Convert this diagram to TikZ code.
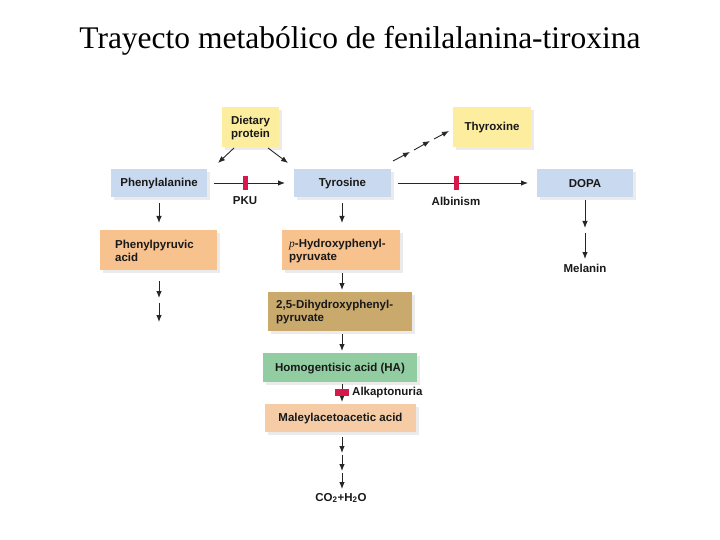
\documentclass[tikz,border=0pt]{standalone}
\usepackage{fontspec}
\setmainfont{Liberation Sans}
\newfontfamily\titlefont{Liberation Serif}
\usetikzlibrary{arrows.meta}
\definecolor{cblue}{HTML}{C9D9EF}
\definecolor{cyellow}{HTML}{FCEE9E}
\definecolor{corange}{HTML}{F7C28E}
\definecolor{ctan}{HTML}{C9A96C}
\definecolor{cgreen}{HTML}{92CCA1}
\definecolor{cpeach}{HTML}{F6CCA6}
\definecolor{cred}{HTML}{D6184A}
\begin{document}
\begin{tikzpicture}[x=1pt,y=-1pt,
  box/.style={inner sep=0pt, font=\fontsize{11.5}{13}\selectfont\bfseries, text=black!90},
  arr/.style={-{Latex[length=7pt,width=5.5pt]}, line width=0.9pt, black!85},
  lbl/.style={font=\fontsize{11.5}{13}\selectfont\bfseries, text=black!90, inner sep=0pt},
  blk/.style={fill=cred, draw=none}]
\useasboundingbox (0,0) rectangle (720,540);
\node[font=\titlefont\fontsize{31.5}{36}\selectfont] (title) at (360,41) {Trayecto metabólico de fenilalanina-tiroxina};

% shadows + boxes
\newcommand{\mybox}[6]{% name, x1,y1,x2,y2, color
  \fill[black!8] (#2+3,#3+3) rectangle (#4+3,#5+3);
  \fill[#6] (#2,#3) rectangle (#4,#5);
  \coordinate (#1) at ({(#2+#4)/2},{(#3+#5)/2+1});
}
\mybox{diet}{222}{107}{279}{147}{cyellow}
\mybox{thy}{453}{107}{531}{147}{cyellow}
\mybox{phe}{111}{169}{207}{197}{cblue}
\mybox{tyr}{294}{169}{391}{197}{cblue}
\mybox{dopa}{537}{169}{633}{197}{cblue}
\mybox{ppa}{100}{230}{217}{270}{corange}
\mybox{php}{282}{230}{400}{270}{corange}
\mybox{dhp}{268}{292}{412}{331}{ctan}
\mybox{ha}{263}{353}{417}{382}{cgreen}
\mybox{maa}{265}{404}{416}{432}{cpeach}

\node[box, align=center] (tdiet) at (diet) {Dietary\\protein};
\node[box] (tthy) at (thy) {Thyroxine};
\node[box] (tphe) at (phe) {Phenylalanine};
\node[box] (ttyr) at (tyr) {Tyrosine};
\node[box] (tdopa) at (dopa) {DOPA};
\node[box, align=left, anchor=west] (tppa) at (115,251) {Phenylpyruvic\\acid};
\node[box, align=left, anchor=west] (tphp) at (289,251) {{\titlefont\itshape\mdseries p}-Hydroxyphenyl-\\pyruvate};
\node[box, align=left, anchor=west] (tdhp) at (276,312) {2,5-Dihydroxyphenyl-\\pyruvate};
\node[box] (tha) at (ha) {Homogentisic acid (HA)};
\node[box] (tmaa) at (maa) {Maleylacetoacetic acid};

\node[lbl] (pku) at (245,201) {PKU};
\node[lbl] (alb) at (456,201) {Albinism};
\node[lbl, anchor=west] (alk) at (352,393) {Alkaptonuria};
\node[lbl] (mel) at (585,268) {Melanin};
\node[lbl] (co2) at (341,498) {CO\textsubscript{2}+H\textsubscript{2}O};

% diagonal arrows from dietary protein
\coordinate (d1s) at (234,148); \coordinate (d1e) at (218,163);
\coordinate (d2s) at (268,148); \coordinate (d2e) at (288,163);
\draw[arr] (d1s) -- (d1e);
\draw[arr] (d2s) -- (d2e);

\coordinate (a1) at (214,183); \coordinate (a2) at (285,183);
\draw[arr] (a1) -- (a2);
\fill[blk] (243,176) rectangle (248,190);
\coordinate (b1) at (398,183); \coordinate (b2) at (528,183);
\draw[arr] (b1) -- (b2);
\fill[blk] (454,176) rectangle (459,190);

% dashed to thyroxine
\coordinate (t1) at (393,161); \coordinate (t2) at (410,152);
\coordinate (t3) at (414,150); \coordinate (t4) at (430,141);
\coordinate (t5) at (434,139); \coordinate (t6) at (449,131);
\draw[arr] (t1) -- (t2);
\draw[arr] (t3) -- (t4);
\draw[arr] (t5) -- (t6);

% vertical arrows
\draw[arr] (159,203) -- (159,223);
\draw[arr] (342,203) -- (342,223);
\draw[arr] (159,281) -- (159,298);
\draw[arr] (159,303) -- (159,322);
\draw[arr] (342,273) -- (342,290);
\draw[arr] (342,334) -- (342,351);
\draw[arr] (342,384) -- (342,402);
\fill[blk] (335,389) rectangle (349,396);
\draw[arr] (342,437) -- (342,453);
\draw[arr] (342,455) -- (342,471);
\draw[arr] (342,473) -- (342,489);
\draw[arr] (585,200) -- (585,228);
\draw[arr] (585,233) -- (585,259);
\end{tikzpicture}
\end{document}
